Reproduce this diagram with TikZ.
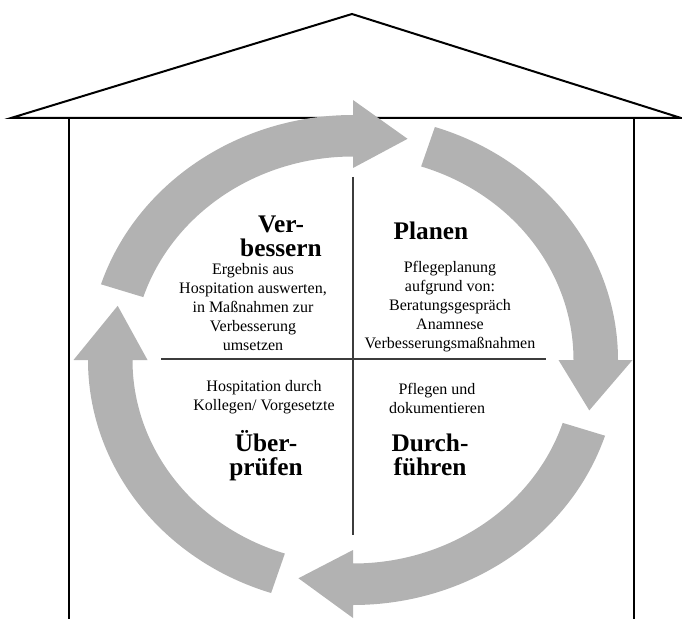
\documentclass[tikz,border=0pt]{standalone}
\usepackage{fontspec}
\setmainfont{Liberation Serif}
\usepackage{xcolor}
\definecolor{ringgray}{RGB}{178,178,178}
\definecolor{crossgray}{RGB}{60,60,60}
\tikzset{
roofstroke/.style={draw=black,line width=1.5pt,line join=miter},
wallstroke/.style={draw=black,line width=1.1pt},
quadline/.style={draw=crossgray,line width=1.1pt},
cyclearrow/.style={fill=ringgray},
phasetitle/.style={align=center,inner sep=0pt,font=\fontsize{19}{18}\selectfont\bfseries},
phasetext/.style={align=center,inner sep=0pt,font=\fontsize{12}{14.25}\selectfont}
}

\begin{document}
\begin{tikzpicture}[
x=0.75pt,
y=0.75pt
]
\useasboundingbox (0,0) rectangle (682,619);
\coordinate (apex) at (352,605);
\coordinate (eaveleft) at (11,501);
\coordinate (eaveright) at (681,501);
\coordinate (walltopleft) at (69,501);
\coordinate (wallbotleft) at (69,0);
\coordinate (walltopright) at (634,501);
\coordinate (wallbotright) at (634,0);
\coordinate (ctr) at (353,259);
\coordinate (crosstop) at (353,442);
\coordinate (crossbot) at (353,84);
\coordinate (crossleft) at (161,260);
\coordinate (crossright) at (546,260);
\draw[roofstroke] (eaveleft) -- (apex) -- (eaveright) -- cycle;
\draw[wallstroke] (walltopleft) -- (wallbotleft);
\draw[wallstroke] (walltopright) -- (wallbotright);
\fill[cyclearrow] ([shift={(162:265 and 245)}]ctr) arc[start angle=162,end angle=90,x radius=265,y radius=245]
  -- ([shift={(90:279.5 and 260)}]ctr) -- ([shift={(77:242.5 and 227)}]ctr) -- ([shift={(90:205.5 and 192)}]ctr)
  -- ([shift={(90:220.5 and 203.5)}]ctr) arc[start angle=90,end angle=162,x radius=220.5,y radius=203.5] -- cycle;
\fill[cyclearrow] ([shift={(72:265 and 245)}]ctr) arc[start angle=72,end angle=0,x radius=265,y radius=245]
  -- ([shift={(0:279.5 and 258)}]ctr) -- ([shift={(-13:242.5 and 224)}]ctr) -- ([shift={(0:205.5 and 190)}]ctr)
  -- ([shift={(0:220.5 and 203.5)}]ctr) arc[start angle=0,end angle=72,x radius=220.5,y radius=203.5] -- cycle;
\fill[cyclearrow] ([shift={(-18:265 and 245)}]ctr) arc[start angle=-18,end angle=-90,x radius=265,y radius=245]
  -- ([shift={(-90:279.5 and 258)}]ctr) -- ([shift={(-103:242.5 and 224)}]ctr) -- ([shift={(-90:205.5 and 190)}]ctr)
  -- ([shift={(-90:220.5 and 203.5)}]ctr) arc[start angle=-90,end angle=-18,x radius=220.5,y radius=203.5] -- cycle;
\fill[cyclearrow] ([shift={(-108:265 and 245)}]ctr) arc[start angle=-108,end angle=-180,x radius=265,y radius=245]
  -- ([shift={(-180:279.5 and 258)}]ctr) -- ([shift={(-194:242.5 and 224)}]ctr) -- ([shift={(-180:205.5 and 190)}]ctr)
  -- ([shift={(-180:220.5 and 203.5)}]ctr) arc[start angle=-180,end angle=-108,x radius=220.5,y radius=203.5] -- cycle;
\draw[quadline] (crosstop) -- (crossbot);
\draw[quadline] (crossleft) -- (crossright);
\node[phasetitle] (improvetitle) at (281,383) {Ver-\\bessern};
\node[phasetext] (improvetext) at (253,312) {Ergebnis aus\\Hospitation auswerten,\\in Maßnahmen zur\\Verbesserung\\umsetzen};
\node[phasetitle] (plantitle) at (431,388) {Planen};
\node[phasetext] (plantext) at (450,312) {Pflegeplanung\\aufgrund von:\\Beratungsgespräch\\Anamnese\\Verbesserungsmaßnahmen};
\node[phasetext] (checktext) at (264,222) {Hospitation durch\\Kollegen/ Vorgesetzte};
\node[phasetitle] (checktitle) at (266,163) {Über-\\prüfen};
\node[phasetext] (dotext) at (437,221) {Pflegen und\\dokumentieren};
\node[phasetitle] (dotitle) at (430,164) {Durch-\\führen};
\end{tikzpicture}
\end{document}
